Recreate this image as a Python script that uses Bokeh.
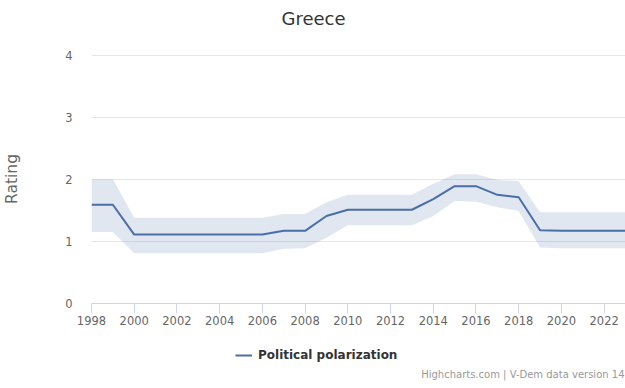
from bokeh.plotting import figure
from bokeh.layouts import column
from bokeh.models import Range1d, FixedTicker, Legend, LegendItem, Label, ColumnDataSource
from bokeh.embed import file_html
from bokeh.resources import INLINE

years = list(range(1998, 2024))
polarization = [1.59, 1.59, 1.11, 1.11, 1.11, 1.11, 1.11, 1.11, 1.11, 1.17, 1.17, 1.41, 1.51,
                1.51, 1.51, 1.51, 1.68, 1.89, 1.89, 1.75, 1.71, 1.18, 1.17, 1.17, 1.17, 1.17]
upper = [2.00, 2.00, 1.38, 1.38, 1.38, 1.38, 1.38, 1.38, 1.38, 1.44, 1.44, 1.63, 1.75,
         1.75, 1.75, 1.75, 1.93, 2.08, 2.08, 1.99, 1.97, 1.47, 1.47, 1.47, 1.47, 1.47]
lower = [1.15, 1.15, 0.81, 0.81, 0.81, 0.81, 0.81, 0.81, 0.81, 0.88, 0.89, 1.06, 1.26,
         1.26, 1.26, 1.26, 1.41, 1.65, 1.64, 1.55, 1.49, 0.90, 0.89, 0.89, 0.89, 0.89]
x_ticks = list(range(1998, 2023, 2))
y_ticks = [0, 1, 2, 3, 4]
title_text = "Greece"
series_name = "Political polarization"
credits_text = "Highcharts.com | V-Dem data version 14"

src = ColumnDataSource(dict(year=years, value=polarization, upper=upper, lower=lower))

FONT = "DejaVu Sans"
LINE_COLOR = "#4a6ea8"
LEFT = 91


def strip(h):
    f = figure(width=625, height=h, output_backend="svg", toolbar_location=None,
               x_range=Range1d(0, 1), y_range=Range1d(0, 1),
               x_axis_type=None, y_axis_type=None,
               min_border_left=LEFT, min_border_right=0, min_border_top=0, min_border_bottom=0)
    f.outline_line_color = None
    f.xgrid.grid_line_color = None
    f.ygrid.grid_line_color = None
    f.background_fill_color = "white"
    f.border_fill_color = "white"
    return f


# header strip with the title
f0 = strip(36)
f0.add_layout(Label(x=313 - LEFT, y=18, x_units="screen", y_units="screen",
                    text=title_text, text_align="center", text_baseline="middle",
                    text_font=FONT, text_font_size="18px", text_color="#333333"))

# main chart
p = figure(width=625, height=293, output_backend="svg", toolbar_location=None,
           x_range=Range1d(1998, 2023), y_range=Range1d(0, 4.01),
           min_border_left=LEFT, min_border_right=0, min_border_top=18, min_border_bottom=26)
p.outline_line_color = None
p.background_fill_color = "white"
p.border_fill_color = "white"

p.varea(x="year", y1="lower", y2="upper", source=src, fill_color="#4572a7", fill_alpha=0.17)
line_r = p.line(x="year", y="value", source=src, line_color=LINE_COLOR, line_width=2)

p.xgrid.grid_line_color = None
p.ygrid.ticker = FixedTicker(ticks=y_ticks)
p.ygrid.grid_line_color = "#e6e6e6"

xa = p.xaxis[0]
xa.ticker = FixedTicker(ticks=x_ticks)
xa.axis_line_color = "#ccd6eb"
xa.major_tick_line_color = "#ccd6eb"
xa.major_tick_out = 10
xa.major_tick_in = 0
xa.minor_tick_line_color = None
xa.major_label_standoff = 2
xa.major_label_text_font = FONT
xa.major_label_text_font_size = "11.5px"
xa.major_label_text_color = "#666666"

ya = p.yaxis[0]
ya.ticker = FixedTicker(ticks=y_ticks)
ya.axis_line_color = None
ya.major_tick_line_color = None
ya.minor_tick_line_color = None
ya.major_label_standoff = 13
ya.major_label_text_font = FONT
ya.major_label_text_font_size = "11.5px"
ya.major_label_text_color = "#666666"
ya.axis_label = "Rating"
ya.axis_label_text_font = FONT
ya.axis_label_text_font_size = "15.5px"
ya.axis_label_text_font_style = "normal"
ya.axis_label_text_color = "#666666"
ya.axis_label_standoff = 41

# bottom strip holding legend and credits
f2 = strip(59)
key_r = f2.line(x="year", y="value", source=src, line_color=LINE_COLOR, line_width=2)
legend = Legend(items=[LegendItem(label=series_name, renderers=[key_r])],
                location=(235 - LEFT, 26), orientation="horizontal",
                border_line_color=None, background_fill_alpha=0,
                padding=0, margin=0, glyph_width=17, glyph_height=14,
                label_height=14, label_standoff=6,
                label_text_font=FONT, label_text_font_style="bold",
                label_text_font_size="12px", label_text_color="#333333")
f2.add_layout(legend)

f2.add_layout(Label(x=624 - LEFT, y=59 - 45, x_units="screen", y_units="screen",
                    text=credits_text, text_align="right",
                    text_baseline="middle", text_font=FONT, text_font_size="10px",
                    text_color="#999999"))

layout = column(f0, p, f2, spacing=0)
open("out.html", "w").write(file_html(layout, INLINE))
